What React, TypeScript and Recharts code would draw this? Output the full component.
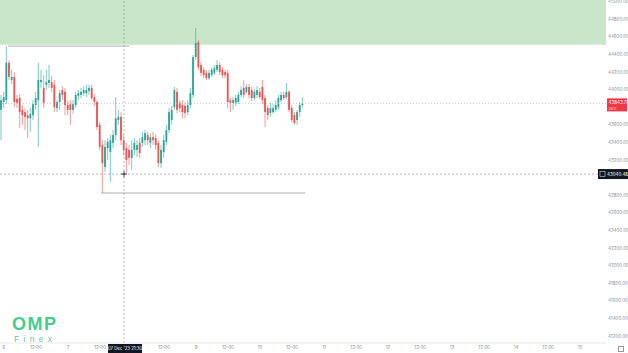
import {
  Bar,
  ComposedChart,
  ReferenceArea,
  ReferenceDot,
  ReferenceLine,
  XAxis,
  YAxis,
} from "recharts";

// hourly candles, first one is Dec 5 23:00 (hour -1 from Dec 6 00:00)
const startHour = -1;

const opens = [
  43770, 43860, 43880, 44305, 44110, 44145, 43895, 43905, 43770, 43745, 43710, 43675,
  43710, 43825, 43880, 44085, 44020, 44055, 44075, 44085, 44055, 43790, 43860, 43995,
  43975, 43825, 43835, 43770, 43825, 43930, 43940, 43960, 43960, 43985, 44020, 43915,
  43860, 43600, 43370, 43120, 43335, 43290, 43395, 43485, 43655, 43690, 43425, 43335,
  43315, 43225, 43315, 43315, 43395, 43395, 43425, 43485, 43395, 43460, 43450, 43395,
  43165, 43290, 43405, 43540, 43655, 43800, 43975, 43850, 43825, 43815, 43745, 43825,
  43940, 44370, 44540, 44280, 44225, 44190, 44130, 44165, 44190, 44225, 44280, 44225,
  44200, 44190, 43880, 43850, 43850, 43860, 43940, 44020, 43975, 44030, 43995, 43905,
  43940, 43975, 44030, 43905, 43790, 43735, 43745, 43770, 43800, 43880, 43940, 43915,
  43975, 43790, 43710, 43655, 43745, 43825,
];
const highs = [
  43940, 43975, 44495, 44335, 44225, 44200, 43940, 43950, 43825, 43790, 43770, 43790,
  43880, 43975, 44305, 44225, 44165, 44225, 44280, 44155, 44110, 43880, 43995, 44040,
  44020, 43880, 43880, 43880, 43975, 43995, 44020, 44040, 44055, 44055, 44055, 43950,
  43880, 43630, 43425, 43425, 43450, 43485, 43540, 43915, 43770, 43745, 43485, 43395,
  43370, 43425, 43450, 43425, 43450, 43520, 43540, 43520, 43505, 43520, 43495, 43425,
  43370, 43485, 43600, 43790, 43815, 44030, 44020, 43880, 43880, 43860, 43880, 44020,
  44395, 44700, 44565, 44315, 44255, 44225, 44225, 44255, 44280, 44335, 44315, 44255,
  44225, 44225, 43905, 43915, 43940, 43975, 44040, 44110, 44065, 44065, 44030, 44005,
  44040, 44020, 44110, 43940, 43825, 43850, 43835, 43880, 43940, 43975, 43975, 44075,
  43995, 43825, 43745, 43770, 43860, 43915,
];
const lows = [
  43425, 43790, 43835, 44110, 44065, 43800, 43790, 43565, 43600, 43540, 43450, 43520,
  43655, 43770, 43350, 44020, 43790, 43995, 44020, 43975, 43745, 43745, 43770, 43880,
  43710, 43710, 43600, 43725, 43790, 43880, 43905, 43930, 43915, 43940, 43880, 43815,
  43540, 43315, 42825, 43065, 43200, 42950, 43335, 43425, 43600, 43370, 43255, 43050,
  43145, 43085, 43255, 43235, 43225, 43350, 43370, 43370, 43335, 43370, 43315, 43120,
  43110, 43225, 43370, 43505, 43600, 43770, 43735, 43745, 43675, 43675, 43710, 43790,
  43905, 44335, 44225, 44155, 44130, 44110, 44110, 44145, 44165, 44200, 44165, 44130,
  44130, 43790, 43745, 43770, 43815, 43835, 43915, 43905, 43950, 43905, 43870, 43880,
  43905, 43895, 43835, 43575, 43655, 43690, 43725, 43745, 43770, 43860, 43880, 43895,
  43745, 43630, 43600, 43600, 43690, 43800,
];
const closes = [
  43880, 43915, 44305, 44145, 44145, 43860, 43850, 43745, 43710, 43690, 43675, 43725,
  43835, 43905, 44110, 44110, 43850, 44085, 44110, 44020, 43800, 43860, 43960, 43940,
  43825, 43770, 43770, 43835, 43940, 43960, 43975, 43995, 43995, 44020, 43905, 43860,
  43575, 43350, 43165, 43350, 43405, 43425, 43485, 43675, 43690, 43425, 43315, 43200,
  43225, 43315, 43395, 43370, 43280, 43460, 43505, 43425, 43460, 43425, 43370, 43165,
  43315, 43425, 43540, 43745, 43770, 43995, 43770, 43790, 43745, 43735, 43825, 43960,
  44370, 44530, 44255, 44190, 44165, 44130, 44190, 44225, 44245, 44280, 44200, 44165,
  44165, 43860, 43850, 43880, 43905, 43940, 43995, 43940, 44030, 43940, 43905, 43975,
  43995, 43915, 43880, 43745, 43710, 43790, 43790, 43825, 43905, 43940, 43905, 43975,
  43770, 43655, 43620, 43745, 43825, 43843.79,
];

// 43800 and 43000 sit under the price tags, so they are not drawn
const yTicks = [
  41200, 41400, 41600, 41800, 42000, 42200, 42400, 42600, 42800,
  43200, 43400, 43600, 44000, 44200, 44400, 44600, 44800, 45000,
];
const xTicks = [0, 12, 24, 36, 60, 72, 84, 96, 108, 120, 132, 144, 156, 168, 180, 192, 204, 216];
// day 8 (hour 48) sits under the crosshair time tag, so it is left out
const xTickLabels = [
  "6", "12:00", "7", "12:00", "12:00", "9", "12:00", "10", "12:00",
  "11", "12:00", "12", "12:00", "13", "12:00", "14", "12:00", "15",
];

const lastPrice = 43843.79;
const lastCountdown = "26:11";
const crossHour = 45;
const crossPrice = 43040.48;
const crossTimeLabel = "07 Dec '23  21:30";
const zoneLow = 44510;
const rangeHigh = { price: 44495, from: 1.5, to: 47 };
const rangeLow = { price: 42825, from: 36.5, to: 113 };

const Y_MIN = 41120;
const Y_MAX = 45019;
const GREEN = "#26a69a";
const RED = "#ef5350";
const AXIS_TEXT = "#8a8d96";

const rows = opens.map((open, i) => ({
  hour: startHour + i,
  open,
  high: highs[i],
  low: lows[i],
  close: closes[i],
}));

function Candle(props: any) {
  const { x, y, width, height } = props;
  const d = props.payload ?? props;
  if (x == null || y == null || !d) return null;
  const top = Math.min(y, y + height);
  const h = Math.abs(height);
  const k = h / (d.high - d.low || 1);
  const cx = x + width / 2;
  const yO = top + (d.high - d.open) * k;
  const yC = top + (d.high - d.close) * k;
  const color = d.close >= d.open ? GREEN : RED;
  return (
    <g>
      <line x1={cx} x2={cx} y1={top} y2={top + h} stroke={color} strokeWidth={0.6} />
      <rect
        x={cx - 0.9}
        y={Math.min(yO, yC)}
        width={1.8}
        height={Math.max(Math.abs(yO - yC), 0.8)}
        fill={color}
      />
    </g>
  );
}

function LastPriceTag(props: any) {
  const vb = props.viewBox;
  if (!vb) return null;
  const x = vb.x + vb.width + 1;
  return (
    <g>
      <rect x={x} y={vb.y - 5} width={20} height={13} fill="#f23645" />
      <text x={x + 1.5} y={vb.y + 0.8} fontSize={4.5} fill="#fff">
        {lastPrice.toFixed(2)}
      </text>
      <text x={x + 1.5} y={vb.y + 6.3} fontSize={3.3} fill="#fde0e2">
        {lastCountdown}
      </text>
    </g>
  );
}

function CrossPriceTag(props: any) {
  const vb = props.viewBox;
  if (!vb) return null;
  const x = vb.x + vb.width - 8;
  return (
    <g>
      <rect x={x} y={vb.y - 5} width={30} height={10} fill="#131722" />
      <rect x={x + 2} y={vb.y - 2.5} width={5} height={5} fill="none" stroke="#d1d4dc" strokeWidth={0.6} />
      <text x={x + 9} y={vb.y + 1.6} fontSize={4.5} fill="#fff">
        {crossPrice.toFixed(2)}
      </text>
    </g>
  );
}

function CrossTimeTag(props: any) {
  const vb = props.viewBox;
  if (!vb) return null;
  const bottom = vb.y + vb.height;
  return (
    <g>
      <rect x={vb.x - 16} y={bottom + 1} width={34} height={9} fill="#131722" />
      <text x={vb.x + 1} y={bottom + 7} fontSize={4.3} fill="#fff" textAnchor="middle">
        {crossTimeLabel}
      </text>
    </g>
  );
}

function Plus(props: any) {
  const { cx, cy } = props;
  if (cx == null || cy == null) return null;
  return (
    <g stroke="#131722" strokeWidth={0.8}>
      <line x1={cx - 3} x2={cx + 3} y1={cy} y2={cy} />
      <line x1={cx} x2={cx} y1={cy - 3} y2={cy + 3} />
    </g>
  );
}

export default function App() {
  return (
    <div
      style={{
        position: "absolute",
        left: 0,
        top: 0,
        width: 628,
        height: 353,
        background: "#ffffff",
        fontFamily: "Inter, 'Noto Sans', sans-serif",
        overflow: "hidden",
      }}
    >
      <ComposedChart
        width={628}
        height={353}
        data={rows}
        margin={{ top: 0, right: 0, left: 0, bottom: 0 }}
      >
        <XAxis
          dataKey="hour"
          type="number"
          domain={[-1.5, 225.7]}
          allowDataOverflow
          ticks={xTicks}
          interval={0}
          tickFormatter={(v) => xTickLabels[xTicks.indexOf(v)] ?? ""}
          height={10}
          tickLine={false}
          tickSize={0}
          tickMargin={3}
          axisLine={{ stroke: "#e0e3eb", strokeWidth: 0.8 }}
          tick={{ fontSize: 4.5, fill: AXIS_TEXT }}
        />
        <YAxis
          orientation="right"
          type="number"
          domain={[Y_MIN, Y_MAX]}
          allowDataOverflow
          ticks={yTicks}
          interval={0}
          width={22}
          tickLine={false}
          tickSize={0}
          tickMargin={2}
          axisLine={false}
          tickFormatter={(v) => Number(v).toFixed(2)}
          tick={{ fontSize: 4.5, fill: AXIS_TEXT, textAnchor: "start" }}
        />

        <ReferenceArea y1={zoneLow} y2={Y_MAX} fill="#c8e6c9" fillOpacity={1} stroke="none" />

        <ReferenceLine
          segment={[
            { x: rangeHigh.from, y: rangeHigh.price },
            { x: rangeHigh.to, y: rangeHigh.price },
          ]}
          stroke="#9598a1"
          strokeWidth={0.8}
        />
        <ReferenceLine
          segment={[
            { x: rangeLow.from, y: rangeLow.price },
            { x: rangeLow.to, y: rangeLow.price },
          ]}
          stroke="#9598a1"
          strokeWidth={0.8}
        />

        <Bar
          dataKey={(d: any) => [d.low, d.high]}
          barSize={2}
          shape={<Candle />}
          isAnimationActive={false}
        />

        <ReferenceLine
          y={lastPrice}
          stroke="#b2b5be"
          strokeWidth={0.7}
          strokeDasharray="1 2"
          label={<LastPriceTag />}
        />
        <ReferenceLine
          y={crossPrice}
          stroke="#9598a1"
          strokeWidth={0.7}
          strokeDasharray="2 2"
          label={<CrossPriceTag />}
        />
        <ReferenceLine
          x={crossHour}
          stroke="#9598a1"
          strokeWidth={0.7}
          strokeDasharray="2 2"
          label={<CrossTimeTag />}
        />
        <ReferenceDot x={crossHour} y={crossPrice} r={3} shape={<Plus />} />
      </ComposedChart>

      <svg
        width={70}
        height={40}
        style={{ position: "absolute", left: 8, top: 310 }}
      >
        <text fontFamily="'Liberation Sans', Arial, sans-serif">
          <tspan x={4} y={20} fontSize={18} fontWeight={700} letterSpacing={1.5} fill="#3fcf8e">
            OMP
          </tspan>
          <tspan x={6} y={31.5} fontSize={8.5} letterSpacing={4.3} fill="#6cc4a4">
            Finex
          </tspan>
        </text>
      </svg>
      <div
        style={{
          position: "absolute",
          left: 618,
          top: 346,
          width: 4,
          height: 4,
          border: "0.7px solid #9598a1",
        }}
      />
    </div>
  );
}
